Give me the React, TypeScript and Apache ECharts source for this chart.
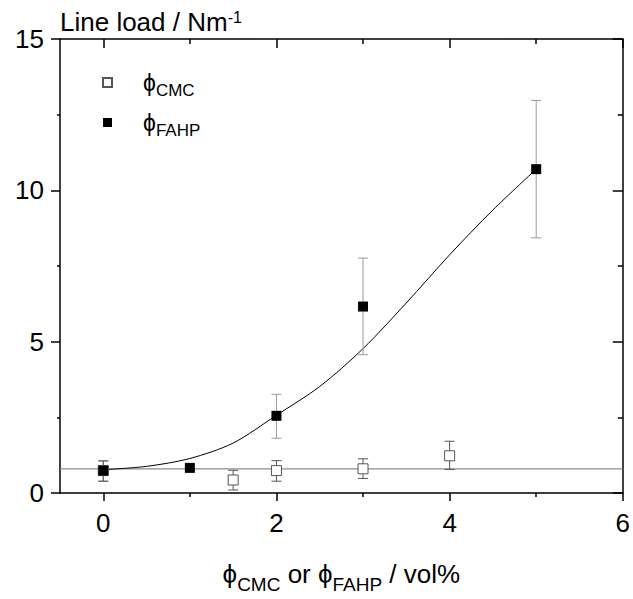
import React, { useEffect, useRef } from "react";
import * as echarts from "echarts";

// Data
const cmcPoints: number[][] = [
  [0, 0.74],
  [1.5, 0.43],
  [2, 0.74],
  [3, 0.8],
  [4, 1.23],
];
const cmcErrors: number[][] = [
  [0, 0.39, 1.06],
  [1.5, 0.1, 0.75],
  [2, 0.39, 1.07],
  [3, 0.48, 1.13],
  [4, 0.78, 1.71],
];
const fahpPoints: number[][] = [
  [0, 0.74],
  [1, 0.83],
  [2, 2.55],
  [3, 6.16],
  [5, 10.7],
];
const fahpErrors: number[][] = [
  [0, 0.39, 1.06],
  [2, 1.81, 3.26],
  [3, 4.57, 7.76],
  [5, 8.43, 12.97],
];
const fitCurve: number[][] = [
  [0, 0.77],
  [0.5, 0.88],
  [1, 1.14],
  [1.5, 1.65],
  [2, 2.57],
  [2.5, 3.52],
  [3, 4.77],
  [3.5, 6.28],
  [4, 7.87],
  [4.5, 9.35],
  [5, 10.7],
];
const baselineValue = 0.8;
const xRange = [-0.5, 6];
const yRange = [0, 15];
const xMajorTicks = [0, 2, 4, 6];
const xMinorTicks = [1, 3, 5];

const FONT = "'Liberation Sans', Arial, sans-serif";

function errorBarSeries(data: number[][], color: string, z: number) {
  return {
    type: "custom",
    name: "err",
    z,
    data,
    encode: { x: 0, y: [1, 2] },
    renderItem: (_params: any, api: any) => {
      const x = api.value(0);
      const lo = api.coord([x, api.value(1)]);
      const hi = api.coord([x, api.value(2)]);
      const w = 5;
      const style = { stroke: color, lineWidth: 1, fill: "none" };
      return {
        type: "group",
        children: [
          { type: "line", shape: { x1: lo[0], y1: lo[1], x2: hi[0], y2: hi[1] }, style },
          { type: "line", shape: { x1: hi[0] - w, y1: hi[1], x2: hi[0] + w, y2: hi[1] }, style },
          { type: "line", shape: { x1: lo[0] - w, y1: lo[1], x2: lo[0] + w, y2: lo[1] }, style },
        ],
      };
    },
  };
}

export default function App() {
  const ref = useRef<HTMLDivElement>(null);
  useEffect(() => {
    document.body.style.margin = "0";
    if (!ref.current) return;
    const chart = echarts.init(ref.current, undefined, { renderer: "svg" });
    const axisLine = { show: true, onZero: false, lineStyle: { color: "#000", width: 1.5 } };
    const option: any = {
      animation: false,
      textStyle: { fontFamily: FONT },
      grid: { left: 60, right: 8, top: 39, bottom: 106 },
      legend: {
        data: ["CMC", "FAHP"],
        orient: "vertical",
        left: 102,
        top: 71,
        padding: 0,
        itemWidth: 9,
        itemHeight: 9,
        itemGap: 12,
        icon: "rect",
        formatter: (name: string) => `{p|ϕ}{s|${name}}`,
        textStyle: {
          fontFamily: FONT,
          color: "#000",
          rich: {
            p: { fontSize: 23, lineHeight: 23, verticalAlign: "top", padding: [0, 0, 0, 26], fontFamily: FONT, color: "#000" },
            s: { fontSize: 17, lineHeight: 17, verticalAlign: "top", padding: [11, 0, 0, 0], fontFamily: FONT, color: "#000" },
          },
        },
      },
      xAxis: [
        {
          type: "value",
          min: xRange[0],
          max: xRange[1],
          interval: 0.5,
          position: "bottom",
          axisLine,
          axisTick: { show: true, customValues: xMajorTicks, length: 8, lineStyle: { color: "#000", width: 1.5 } },
          axisLabel: { customValues: xMajorTicks, fontSize: 26, color: "#000", margin: 17, fontFamily: FONT },
          splitLine: { show: false },
          name: "{p|ϕ}{s|CMC}{m| or }{p|ϕ}{s|FAHP}{m| / vol%}",
          nameLocation: "middle",
          nameGap: 68,
          nameTextStyle: {
            fontFamily: FONT,
            color: "#000",
            rich: {
              p: { fontSize: 26, lineHeight: 26, verticalAlign: "top", fontFamily: FONT, color: "#000" },
              m: { fontSize: 26, lineHeight: 26, verticalAlign: "top", fontFamily: FONT, color: "#000" },
              s: { fontSize: 19, lineHeight: 19, verticalAlign: "top", padding: [14, 0, 0, 0], fontFamily: FONT, color: "#000" },
            },
          },
        },
        {
          type: "value",
          min: xRange[0],
          max: xRange[1],
          interval: 0.5,
          position: "bottom",
          axisLine: { show: false, onZero: false },
          axisTick: { show: true, customValues: xMinorTicks, length: 4, lineStyle: { color: "#000", width: 1.5 } },
          axisLabel: { show: false },
          splitLine: { show: false },
        },
        {
          type: "value",
          min: xRange[0],
          max: xRange[1],
          interval: 0.5,
          position: "top",
          axisLine,
          axisTick: { show: true, inside: true, customValues: xMajorTicks, length: 9, lineStyle: { color: "#000", width: 1.5 } },
          axisLabel: { show: false },
          splitLine: { show: false },
        },
        {
          type: "value",
          min: xRange[0],
          max: xRange[1],
          interval: 0.5,
          position: "top",
          axisLine: { show: false, onZero: false },
          axisTick: { show: true, inside: true, customValues: xMinorTicks, length: 5, lineStyle: { color: "#000", width: 1.5 } },
          axisLabel: { show: false },
          splitLine: { show: false },
        },
      ],
      yAxis: [
        {
          type: "value",
          min: yRange[0],
          max: yRange[1],
          interval: 5,
          position: "left",
          axisLine,
          axisTick: { show: true, length: 9, lineStyle: { color: "#000", width: 1.5 } },
          minorTick: { show: true, splitNumber: 2, length: 3, lineStyle: { color: "#000", width: 1.5 } },
          axisLabel: { fontSize: 26, color: "#000", margin: 16, fontFamily: FONT },
          splitLine: { show: false },
          minorSplitLine: { show: false },
          name: "{a|Line load / Nm}{sup|-1}",
          nameLocation: "end",
          nameGap: 4,
          nameTextStyle: {
            align: "left",
            verticalAlign: "bottom",
            fontFamily: FONT,
            color: "#000",
            rich: {
              a: { fontSize: 26, lineHeight: 26, verticalAlign: "bottom", fontFamily: FONT, color: "#000" },
              sup: { fontSize: 16, lineHeight: 16, verticalAlign: "top", fontFamily: FONT, color: "#000" },
            },
          },
        },
        {
          type: "value",
          min: yRange[0],
          max: yRange[1],
          interval: 5,
          position: "right",
          axisLine,
          axisTick: { show: true, inside: true, length: 10, lineStyle: { color: "#000", width: 1.5 } },
          minorTick: { show: true, splitNumber: 2, length: 5, lineStyle: { color: "#000", width: 1.5 } },
          axisLabel: { show: false },
          splitLine: { show: false },
          minorSplitLine: { show: false },
        },
      ],
      series: [
        {
          type: "line",
          name: "baseline",
          data: [
            [xRange[0], baselineValue],
            [xRange[1], baselineValue],
          ],
          symbol: "none",
          lineStyle: { color: "#8c8c8c", width: 1.2 },
          z: 1,
          silent: true,
        },
        {
          type: "line",
          name: "fit",
          data: fitCurve,
          smooth: 0.3,
          symbol: "none",
          lineStyle: { color: "#000", width: 1 },
          z: 2,
          silent: true,
        },
        errorBarSeries(fahpErrors, "#9a9a9a", 3),
        errorBarSeries(cmcErrors, "#555", 3),
        {
          type: "scatter",
          name: "CMC",
          data: cmcPoints,
          symbol: "rect",
          symbolSize: 10,
          itemStyle: { color: "#fff", borderColor: "#555", borderWidth: 1, opacity: 1 },
          z: 4,
        },
        {
          type: "scatter",
          name: "FAHP",
          data: fahpPoints,
          symbol: "rect",
          symbolSize: 10,
          itemStyle: { color: "#000", opacity: 1 },
          z: 5,
        },
      ],
    };
    chart.setOption(option);
    return () => chart.dispose();
  }, []);
  return <div ref={ref} style={{ width: 633, height: 599 }} />;
}
